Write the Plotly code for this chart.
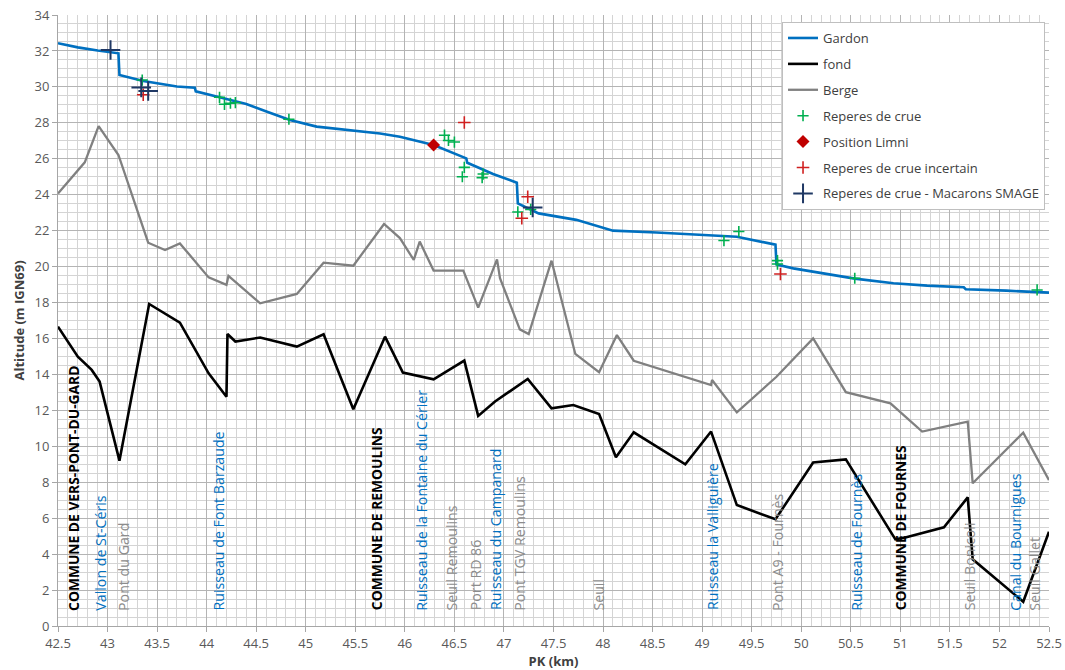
import plotly.graph_objects as go

# Ligne d'eau du Gardon (PK km, altitude m IGN69)
gardon_pk = [42.5, 42.7, 42.9, 43.11, 43.12, 43.36, 43.5, 43.7, 43.88, 43.89, 44.13, 44.4,
             44.61, 44.84, 45.11, 45.45, 45.75, 45.95, 46.29, 46.62, 46.63, 46.89, 47.13,
             47.14, 47.22, 47.35, 47.73, 47.97, 48.1, 48.54, 49.11, 49.35, 49.74, 49.75,
             49.92, 50.26, 50.54, 50.93, 51.27, 51.64, 51.66, 52.07, 52.5]
gardon_z = [32.43, 32.2, 32.02, 31.87, 30.66, 30.33, 30.2, 30.02, 29.95, 29.75, 29.42, 29.05,
            28.62, 28.16, 27.79, 27.57, 27.41, 27.23, 26.77, 26.02, 25.78, 25.15, 24.67,
            23.52, 23.3, 22.96, 22.6, 22.22, 22.0, 21.9, 21.76, 21.66, 21.22, 20.12,
            19.9, 19.59, 19.33, 19.07, 18.94, 18.85, 18.74, 18.66, 18.55]

# Fond du lit
fond_pk = [42.5, 42.7, 42.84, 42.92, 43.12, 43.42, 43.73, 44.02, 44.2, 44.21, 44.29, 44.54,
           44.91, 45.18, 45.48, 45.8, 45.98, 46.29, 46.6, 46.74, 46.91, 47.24, 47.48, 47.7,
           47.96, 48.13, 48.31, 48.83, 49.09, 49.35, 49.74, 50.12, 50.45, 50.95, 51.06,
           51.44, 51.68, 51.73, 52.24, 52.5]
fond_z = [16.66, 14.99, 14.25, 13.6, 9.2, 17.92, 16.88, 14.06, 12.76, 16.25, 15.83, 16.05,
          15.55, 16.23, 12.06, 16.1, 14.1, 13.73, 14.77, 11.69, 12.49, 13.75, 12.11, 12.3,
          11.8, 9.39, 10.78, 9.0, 10.82, 6.73, 5.94, 9.1, 9.27, 4.82, 4.94,
          5.49, 7.16, 3.71, 1.35, 5.25]

# Berge
berge_pk = [42.5, 42.77, 42.91, 43.11, 43.41, 43.58, 43.73, 44.02, 44.2, 44.22, 44.54, 44.91,
            45.18, 45.48, 45.79, 45.95, 46.09, 46.15, 46.29, 46.59, 46.74, 46.93, 46.96,
            47.16, 47.25, 47.48, 47.72, 47.96, 48.14, 48.31, 49.09, 49.1, 49.35, 49.75,
            50.12, 50.45, 50.9, 51.22, 51.68, 51.73, 52.24, 52.5]
berge_z = [24.07, 25.8, 27.82, 26.21, 21.33, 20.92, 21.29, 19.4, 18.98, 19.48, 17.96, 18.48,
           20.22, 20.05, 22.37, 21.59, 20.37, 21.39, 19.78, 19.78, 17.72, 20.4, 19.35,
           16.51, 16.25, 20.33, 15.14, 14.12, 16.19, 14.76, 13.41, 13.69, 11.89, 13.87,
           16.0, 13.01, 12.39, 10.82, 11.37, 7.94, 10.76, 8.12]

# Repères de crue
reperes_pk = [43.35, 44.13, 44.18, 44.24, 44.29, 44.83, 46.4, 46.44, 46.5, 46.6, 46.58, 46.79,
              46.78, 47.14, 47.27, 49.22, 49.37, 49.76, 49.76, 50.54, 52.38]
reperes_z = [30.38, 29.42, 29.03, 29.09, 29.12, 28.2, 27.31, 27.02, 26.93, 25.52, 25.0, 25.15,
             24.95, 23.04, 23.18, 21.45, 21.95, 20.33, 20.14, 19.35, 18.7]

limni_pk = [46.29]
limni_z = [26.77]

incertain_pk = [43.36, 46.6, 47.24, 47.18, 49.79]
incertain_z = [29.56, 28.02, 23.89, 22.69, 19.59]

macarons_pk = [43.03, 43.34, 43.41, 47.29]
macarons_z = [32.05, 29.97, 29.77, 23.29]

# Étiquettes verticales le long du profil: (PK, texte, type)
etiquettes = [
    (42.65, "COMMUNE DE VERS-PONT-DU-GARD", "commune"),
    (42.92, "Vallon de St-Céris", "affluent"),
    (43.16, "Pont du Gard", "ouvrage"),
    (44.11, "Ruisseau de Font Barzaude", "affluent"),
    (45.71, "COMMUNE DE REMOULINS", "commune"),
    (46.16, "Ruisseau de la Fontaine du Cérier", "affluent"),
    (46.47, "Seuil Remoulins", "ouvrage"),
    (46.71, "Port RD 86", "ouvrage"),
    (46.91, "Ruisseau du Campanard", "affluent"),
    (47.15, "Pont TGV Remoulins", "ouvrage"),
    (47.95, "Seuil", "ouvrage"),
    (49.10, "Ruisseau la Valliguière", "affluent"),
    (49.76, "Pont A9 - Fournès", "ouvrage"),
    (50.55, "Ruisseau de Fournès", "affluent"),
    (51.00, "COMMUNE DE FOURNES", "commune"),
    (51.70, "Seuil Bonicoli", "ouvrage"),
    (52.16, "Canal du Bournigues", "affluent"),
    (52.35, "Seuil Gallet", "ouvrage"),
]

FONT = "Open Sans"
BLUE = "#0070C0"
styles = {
    "commune": dict(color="#000000", size=13.8, family=FONT, weight="bold"),
    "affluent": dict(color=BLUE, size=14.2, family=FONT),
    "ouvrage": dict(color="#8C8C8C", size=14.2, family=FONT),
}

fig = go.Figure()

fig.add_trace(go.Scatter(x=gardon_pk, y=gardon_z, mode="lines", name="Gardon",
                         line=dict(color=BLUE, width=2.6), legendgroup="a"))
fig.add_trace(go.Scatter(x=fond_pk, y=fond_z, mode="lines", name="fond",
                         line=dict(color="#000000", width=2.6), legendgroup="b"))
fig.add_trace(go.Scatter(x=berge_pk, y=berge_z, mode="lines", name="Berge",
                         line=dict(color="#808080", width=2.3), legendgroup="c"))
fig.add_trace(go.Scatter(x=reperes_pk, y=reperes_z, mode="markers", name="Reperes de crue",
                         marker=dict(symbol="cross-thin", size=8, color="#00B050",
                                     line=dict(color="#00B050", width=1.6)),
                         legendgroup="d"))
fig.add_trace(go.Scatter(x=limni_pk, y=limni_z, mode="markers", name="Position Limni",
                         marker=dict(symbol="diamond", size=10, color="#C00000"),
                         legendgroup="e"))
fig.add_trace(go.Scatter(x=incertain_pk, y=incertain_z, mode="markers",
                         name="Reperes de crue incertain",
                         marker=dict(symbol="cross-thin", size=9, color="#E03030",
                                     line=dict(color="#D02020", width=1.6)),
                         legendgroup="f"))
fig.add_trace(go.Scatter(x=macarons_pk, y=macarons_z, mode="markers",
                         name="Reperes de crue - Macarons SMAGE",
                         marker=dict(symbol="cross-thin", size=14, color="#1F3864",
                                     line=dict(color="#1F3864", width=2)),
                         legendgroup="g"))

for pk, texte, kind in etiquettes:
    fig.add_annotation(x=pk, y=0.75, xref="x", yref="y", text=texte, textangle=-90,
                       showarrow=False, xanchor="center", yanchor="bottom",
                       font=styles[kind])

axis_common = dict(
    showgrid=True, gridcolor="#B4B4B4", gridwidth=1,
    showline=True, linecolor="#A6A6A6", linewidth=1,
    ticks="outside", ticklen=5, tickcolor="#A6A6A6",
    tickfont=dict(family=FONT, size=13, color="#595959"),
    zeroline=False, automargin=False,
)

fig.update_xaxes(range=[42.5, 52.5], dtick=0.5, tick0=42.5,
                 minor=dict(dtick=0.1, showgrid=True, gridcolor="#D4D4D4", gridwidth=1),
                 title=dict(text="<b>PK (km)</b>", standoff=0,
                            font=dict(family=FONT, size=13, color="#404040")),
                 **axis_common)
fig.update_yaxes(range=[0, 34], dtick=2,
                 minor=dict(dtick=0.5, showgrid=True, gridcolor="#D4D4D4", gridwidth=1),
                 title=dict(text="<b>Altitude (m IGN69)</b>", standoff=6,
                            font=dict(family=FONT, size=13, color="#404040")),
                 **axis_common)

fig.update_layout(
    width=1065, height=670,
    margin=dict(l=58, r=16, t=15, b=44, autoexpand=False),
    paper_bgcolor="white", plot_bgcolor="white",
    font=dict(family=FONT, color="#404040"),
    legend=dict(x=0.7306, y=0.9885, xanchor="left", yanchor="top",
                bgcolor="white", bordercolor="#BFBFBF", borderwidth=1,
                font=dict(family=FONT, size=13, color="#404040"),
                tracegroupgap=6, itemwidth=30),
    showlegend=True,
)

fig.write_html("out.html")
